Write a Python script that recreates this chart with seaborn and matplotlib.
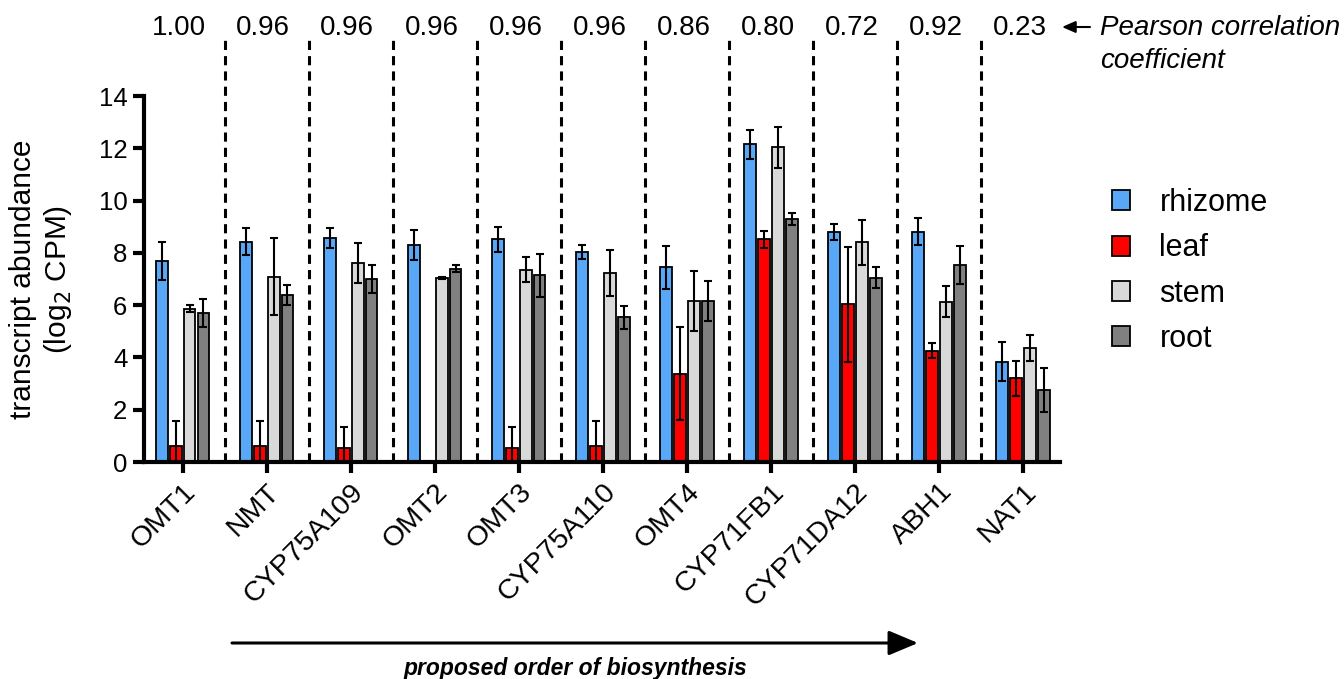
import pandas as pd
import seaborn as sns
import matplotlib.pyplot as plt
from matplotlib.patches import Patch

genes = ['OMT1', 'NMT', 'CYP75A109', 'OMT2', 'OMT3', 'CYP75A110',
         'OMT4', 'CYP71FB1', 'CYP71DA12', 'ABH1', 'NAT1']
tissues = ['rhizome', 'leaf', 'stem', 'root']
pearson = ['1.00', '0.96', '0.96', '0.96', '0.96', '0.96',
           '0.86', '0.80', '0.72', '0.92', '0.23']

# mean log2 CPM per tissue
rhizome_mean = [7.70, 8.43, 8.57, 8.31, 8.52, 8.03, 7.45, 12.15, 8.80, 8.81, 3.83]
leaf_mean = [0.62, 0.62, 0.52, 0.00, 0.52, 0.62, 3.38, 8.52, 6.03, 4.26, 3.21]
stem_mean = [5.87, 7.09, 7.61, 7.04, 7.36, 7.24, 6.16, 12.04, 8.40, 6.13, 4.37]
root_mean = [5.70, 6.39, 7.00, 7.40, 7.15, 5.53, 6.16, 9.30, 7.05, 7.54, 2.75]

# error (SD)
rhizome_err = [0.72, 0.53, 0.38, 0.57, 0.48, 0.27, 0.83, 0.56, 0.32, 0.51, 0.75]
leaf_err = [0.95, 0.95, 0.83, 0.00, 0.83, 0.95, 1.77, 0.32, 2.20, 0.29, 0.67]
stem_err = [0.12, 1.48, 0.75, 0.05, 0.47, 0.88, 1.16, 0.79, 0.87, 0.60, 0.49]
root_err = [0.55, 0.37, 0.52, 0.14, 0.82, 0.45, 0.78, 0.24, 0.41, 0.72, 0.85]

colors = ['#59A8F7', '#FF0000', '#D9D9D9', '#808080']

means = [rhizome_mean, leaf_mean, stem_mean, root_mean]
errs = [rhizome_err, leaf_err, stem_err, root_err]

rows = []
for t, m in zip(tissues, means):
    for g, v in zip(genes, m):
        rows.append({'gene': g, 'tissue': t, 'cpm': v})
df = pd.DataFrame(rows)

sns.set_style('ticks')
plt.rcParams['font.family'] = ['Liberation Sans', 'DejaVu Sans']
plt.rcParams.update({'text.color': 'black', 'axes.labelcolor': 'black',
                     'xtick.color': 'black', 'ytick.color': 'black',
                     'axes.edgecolor': 'black'})

fig = plt.figure(figsize=(13.44, 6.79), dpi=100)
ax = fig.add_axes([144 / 1344, 1 - 462 / 679, 916 / 1344, 366 / 679])

sns.barplot(data=df, x='gene', y='cpm', hue='tissue', palette=colors, saturation=1,
            width=0.66, gap=0.15, edgecolor='black', linewidth=1.3,
            errorbar=None, legend=False, ax=ax, zorder=2)

for cont, m, e in zip(ax.containers, means, errs):
    for bar, v, s in zip(cont, m, e):
        if s <= 0:
            continue
        x = bar.get_x() + bar.get_width() / 2
        ax.errorbar(x, v, yerr=[[min(s, v)], [s]], color='black', lw=1.5,
                    capsize=2.8, capthick=1.5, zorder=3)

ax.set_xlim(-0.46, len(genes) - 1 + 0.44)
ax.set_ylim(0, 14)
ax.set_yticks(range(0, 15, 2))
ax.set_xlabel('')
ax.set_ylabel('transcript abundance\n(log$_2$ CPM)', fontsize=21.5, labelpad=18)
sns.despine(ax=ax)
for s in ['left', 'bottom']:
    ax.spines[s].set_linewidth(3)
ax.tick_params(axis='both', width=3, length=8, pad=4)
ax.tick_params(axis='y', labelsize=18.5)
ax.tick_params(axis='x', labelsize=20.5)
ax.set_xticks(range(len(genes)))
ax.set_xticklabels(genes, rotation=45, ha='right', rotation_mode='anchor')

# group separators
ax.vlines([i + 0.5 for i in range(len(genes) - 1)], 0, 16.15,
          colors='black', linestyles=(0, (3, 2)), lw=2.2, clip_on=False, zorder=1)

# pearson coefficients
for i, p in enumerate(pearson):
    ax.text(i - 0.04, 16.6, p, ha='center', va='center', fontsize=20, clip_on=False)
ax.annotate('', xy=(1062 / 1344, 1 - 27 / 679), xytext=(1090 / 1344, 1 - 27 / 679),
            xycoords='figure fraction', textcoords='figure fraction',
            arrowprops=dict(arrowstyle='-|>,head_length=0.8,head_width=0.35',
                            lw=1.5, color='black', mutation_scale=10,
                            shrinkA=0, shrinkB=0))
fig.text(1100 / 1344, 1 - 28 / 679, 'Pearson correlation', ha='left',
         va='center', fontsize=20, style='italic')
fig.text(1100 / 1344, 1 - 61 / 679, 'coefficient', ha='left',
         va='center', fontsize=20, style='italic')

# legend
handles = [Patch(facecolor=c, edgecolor='black', lw=1.3) for c in colors]
fig.legend(handles, tissues, loc='center left',
           bbox_to_anchor=(1084 / 1344, 1 - 271 / 679), frameon=False, fontsize=22,
           handlelength=0.62, handleheight=0.62, labelspacing=0.5, handletextpad=0.95)

# order of biosynthesis arrow
ax.annotate('', xy=(918 / 1344, 1 - 643 / 679), xytext=(232 / 1344, 1 - 643 / 679),
            xycoords='figure fraction', textcoords='figure fraction',
            arrowprops=dict(arrowstyle='-|>,head_length=1.0,head_width=0.42',
                            lw=2.2, color='black', mutation_scale=18,
                            shrinkA=0, shrinkB=0))
fig.text(575 / 1344, 1 - 668 / 679, 'proposed order of biosynthesis', ha='center',
         va='center', fontsize=16.5, style='italic', weight='bold')

fig.savefig('out.png', dpi=100)
